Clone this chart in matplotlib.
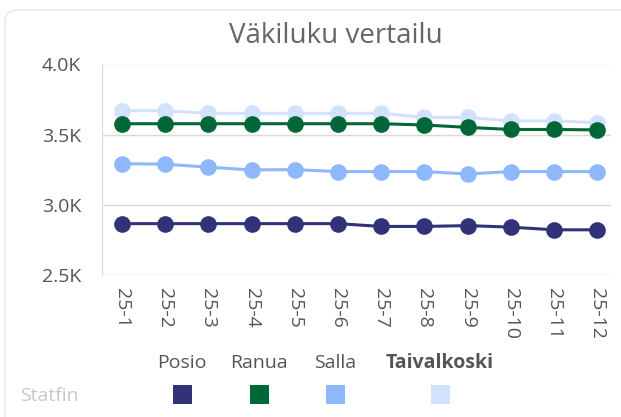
import matplotlib.pyplot as plt
from matplotlib.patches import FancyBboxPatch, Rectangle

plt.rcParams['font.family'] = ['Open Sans', 'DejaVu Sans']

months = ['25-1', '25-2', '25-3', '25-4', '25-5', '25-6',
          '25-7', '25-8', '25-9', '25-10', '25-11', '25-12']
posio = [2866, 2866, 2866, 2866, 2866, 2866, 2846, 2846, 2852, 2841, 2822, 2822]
ranua = [3578, 3578, 3578, 3578, 3578, 3578, 3578, 3569, 3552, 3537, 3537, 3534]
salla = [3293, 3290, 3268, 3249, 3251, 3237, 3237, 3237, 3220, 3237, 3237, 3237]
taivalkoski = [3671, 3671, 3652, 3652, 3652, 3652, 3652, 3623, 3623, 3598, 3598, 3586]

names = ['Posio', 'Ranua', 'Salla', 'Taivalkoski']
colors = ['#323278', '#006838', '#8fb8fc', '#d2e2fc']
series = [posio, ranua, salla, taivalkoski]

W, H = 621, 417
fig = plt.figure(figsize=(W / 100, H / 100), dpi=100)

# card background (right and bottom edges run off the image)
card = FancyBboxPatch((5 / W, -0.05), 1.05, 1 - 10 / H + 0.05,
                      boxstyle='round,pad=0,rounding_size=0.025',
                      transform=fig.transFigure, facecolor='white', edgecolor='#e6e6e6',
                      linewidth=1, zorder=-5)
fig.patches.append(card)

ax = fig.add_axes([102 / W, 1 - 275 / H, (611 - 102) / W, (275 - 64.5) / H])
ax.set_facecolor('none')

x = list(range(len(months)))
# back to front like the reference
for vals, col in zip(series[::-1], colors[::-1]):
    ax.plot(x, vals, color=col, linewidth=2.2, marker='o', markersize=12,
            markeredgewidth=0)

ax.set_xlim(-0.46, 11.32)
ax.set_ylim(2500, 4000)
ax.set_yticks([2500, 3000, 3500, 4000])
ax.set_yticklabels(['2.5K', '3.0K', '3.5K', '4.0K'])
ax.set_xticks(x)
ax.set_xticklabels(months, rotation=270, va='top', ha='center')
ax.grid(axis='y', color='#d9d9d9', linewidth=1)
ax.set_axisbelow(True)
for s in ['top', 'right', 'bottom']:
    ax.spines[s].set_visible(False)
ax.spines['left'].set_color('#d9d9d9')
ax.tick_params(axis='both', length=0, colors='#555555', labelsize=14)
ax.tick_params(axis='y', pad=15)
ax.tick_params(axis='x', pad=9)

fig.text(336 / W, 1 - 36 / H, 'Väkiluku vertailu', ha='center', va='center',
         fontsize=20, color='#666666')

# legend drawn by hand
leg_x = [182, 259, 335, 440]
for nm, col, lx in zip(names, colors, leg_x):
    fig.text(lx / W, 1 - 363 / H, nm, ha='center', va='center', fontsize=14,
             color='#555555', fontweight='bold' if nm == 'Taivalkoski' else 'normal')
    fig.patches.append(Rectangle(((lx - 9.5) / W, 1 - 404 / H), 19 / W, 19 / H,
                                 transform=fig.transFigure, facecolor=col, edgecolor='none'))
fig.text(20 / W, 1 - 396 / H, 'Statfin', ha='left', va='center', fontsize=14,
         color='#c8c8c8')

fig.savefig('out.png', dpi=100)
